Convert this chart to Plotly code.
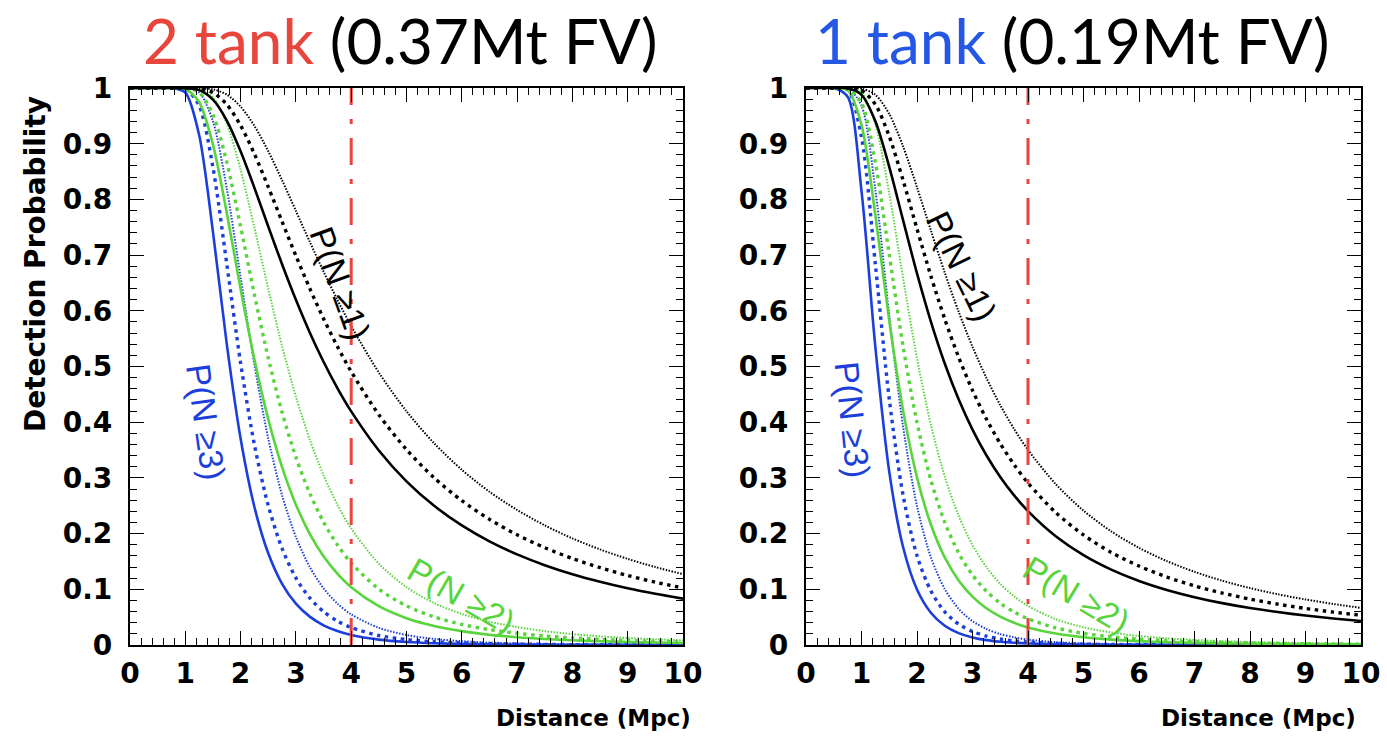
import plotly.graph_objects as go

# ---------------- data ----------------
distance = [0.0, 0.5, 0.75, 1.0, 1.25, 1.5, 1.75, 2.0, 2.25, 2.5, 2.75, 3.0, 3.25, 3.5, 3.75,
            4.0, 4.5, 5.0, 5.5, 6.0, 6.5, 7.0, 7.5, 8.0, 8.5, 9.0, 9.5, 10.0]

# 2 tank (0.37Mt FV)
t2_ge1_solid = [1, 1, 1, 0.9998, 0.9962, 0.9791, 0.9416, 0.8864, 0.8207, 0.7514, 0.6835, 0.6197, 0.5612, 0.5085, 0.4613,
                0.4194, 0.3493, 0.2939, 0.2499, 0.2147, 0.1861, 0.1627, 0.1433, 0.1271, 0.1135, 0.1018, 0.0919, 0.0833]
t2_ge1_dash = [1, 1, 1, 1.0, 0.9990, 0.9918, 0.9706, 0.9328, 0.8816, 0.8224, 0.7602, 0.6988, 0.6403, 0.5859, 0.5361,
               0.4908, 0.4134, 0.3508, 0.3002, 0.2592, 0.2256, 0.1978, 0.1747, 0.1553, 0.1388, 0.1248, 0.1128, 0.1024]
t2_ge1_dot = [1, 1, 1, 1.0, 0.9998, 0.9976, 0.9882, 0.9666, 0.9319, 0.8865, 0.8344, 0.7793, 0.7241, 0.6705, 0.6198,
              0.5726, 0.4891, 0.4196, 0.3621, 0.3146, 0.2752, 0.2424, 0.2148, 0.1914, 0.1716, 0.1546, 0.1399, 0.1272]
t2_ge2_solid = [1, 1, 1, 0.9984, 0.9749, 0.8982, 0.7758, 0.6393, 0.5125, 0.4054, 0.3194, 0.2520, 0.1997, 0.1594, 0.1281,
                0.1037, 0.0697, 0.0482, 0.0342, 0.0249, 0.0185, 0.0140, 0.0108, 0.0084, 0.0067, 0.0054, 0.0044, 0.0036]
t2_ge2_dash = [1, 1, 1, 0.9998, 0.9921, 0.9523, 0.8669, 0.7513, 0.6289, 0.5154, 0.4178, 0.3374, 0.2725, 0.2208, 0.1798,
               0.1472, 0.1005, 0.0703, 0.0504, 0.0369, 0.0276, 0.0210, 0.0162, 0.0127, 0.0101, 0.0081, 0.0066, 0.0054]
t2_ge2_dot = [1, 1, 1, 1.0, 0.9984, 0.9833, 0.9359, 0.8532, 0.7489, 0.6395, 0.5367, 0.4459, 0.3688, 0.3047, 0.2521,
              0.2093, 0.1460, 0.1038, 0.0753, 0.0557, 0.0419, 0.0321, 0.0249, 0.0196, 0.0156, 0.0126, 0.0103, 0.0085]
t2_ge3_solid = [1, 1, 1, 0.992, 0.9157, 0.7417, 0.5402, 0.3706, 0.2477, 0.1646, 0.1099, 0.0743, 0.0509, 0.0354, 0.0250,
                0.0179, 0.0096, 0.0054, 0.0032, 0.0020, 0.0013, 0.0008, 0.0006, 0.0004, 0.0003, 0.0002, 0.0001, 0.0001]
t2_ge3_dash = [1, 1, 1, 0.9986, 0.9683, 0.8575, 0.6840, 0.5064, 0.3594, 0.2502, 0.1733, 0.1205, 0.0845, 0.0599, 0.0429,
               0.0312, 0.0170, 0.0098, 0.0058, 0.0036, 0.0023, 0.0016, 0.0011, 0.0007, 0.0005, 0.0004, 0.0003, 0.0002]
t2_ge3_dot = [1, 1, 1, 0.9999, 0.9921, 0.9400, 0.8197, 0.6603, 0.5030, 0.3708, 0.2689, 0.1940, 0.1400, 0.1017, 0.0744,
              0.0549, 0.0308, 0.0179, 0.0109, 0.0068, 0.0044, 0.0029, 0.0020, 0.0014, 0.0010, 0.0007, 0.0005, 0.0004]

# 1 tank (0.19Mt FV)
t1_ge1_solid = [1, 1.0, 0.9996, 0.9877, 0.9402, 0.8585, 0.7623, 0.6671, 0.5807, 0.5054, 0.4411, 0.3867, 0.3407, 0.3018, 0.2687,
                0.2404, 0.1953, 0.1614, 0.1354, 0.1150, 0.0989, 0.0859, 0.0752, 0.0664, 0.0591, 0.0529, 0.0476, 0.0430]
t1_ge1_dash = [1, 1.0, 0.9999, 0.9959, 0.9704, 0.9132, 0.8340, 0.7472, 0.6626, 0.5852, 0.5168, 0.4572, 0.4059, 0.3617, 0.3237,
               0.2909, 0.2378, 0.1975, 0.1662, 0.1417, 0.1221, 0.1062, 0.0932, 0.0824, 0.0733, 0.0657, 0.0591, 0.0535]
t1_ge1_dot = [1, 1.0, 1.0, 0.9990, 0.9879, 0.9534, 0.8949, 0.8218, 0.7441, 0.6685, 0.5984, 0.5354, 0.4797, 0.4306, 0.3878,
              0.3503, 0.2888, 0.2412, 0.2040, 0.1744, 0.1507, 0.1314, 0.1154, 0.1022, 0.0911, 0.0817, 0.0736, 0.0667]
t1_ge2_solid = [1, 1.0, 0.9965, 0.9337, 0.7716, 0.5818, 0.4208, 0.3010, 0.2163, 0.1572, 0.1160, 0.0869, 0.0660, 0.0510, 0.0398,
                0.0316, 0.0205, 0.0138, 0.0096, 0.0069, 0.0051, 0.0038, 0.0029, 0.0023, 0.0018, 0.0014, 0.0011, 0.0009]
t1_ge2_dash = [1, 1.0, 0.9994, 0.9734, 0.8662, 0.7011, 0.5359, 0.3995, 0.2960, 0.2202, 0.1653, 0.1256, 0.0966, 0.0751, 0.0592,
               0.0471, 0.0308, 0.0209, 0.0147, 0.0105, 0.0078, 0.0058, 0.0045, 0.0035, 0.0027, 0.0022, 0.0018, 0.0015]
t1_ge2_dot = [1, 1.0, 0.9999, 0.9920, 0.9346, 0.8106, 0.6582, 0.5145, 0.3953, 0.3024, 0.2321, 0.1793, 0.1398, 0.1099, 0.0874,
              0.0701, 0.0464, 0.0318, 0.0224, 0.0162, 0.0120, 0.0090, 0.0069, 0.0054, 0.0043, 0.0035, 0.0028, 0.0023]
t1_ge3_solid = [1, 0.9999, 0.9842, 0.8149, 0.5344, 0.3113, 0.1754, 0.0996, 0.0579, 0.0346, 0.0214, 0.0136, 0.0088, 0.0059, 0.0040,
                0.0028, 0.0014, 0.0008, 0.0005, 0.0003, 0.0002, 0.0001, 0.0001, 0.0001, 0.0, 0.0, 0.0, 0.0]
t1_ge3_dash = [1, 1.0, 0.9967, 0.9116, 0.6828, 0.4419, 0.2683, 0.1605, 0.0969, 0.0596, 0.0375, 0.0242, 0.0160, 0.0108, 0.0074,
               0.0053, 0.0027, 0.0015, 0.0009, 0.0005, 0.0003, 0.0002, 0.0001, 0.0001, 0.0001, 0.0, 0.0, 0.0]
t1_ge3_dot = [1, 1.0, 0.9996, 0.9680, 0.8168, 0.5916, 0.3915, 0.2494, 0.1575, 0.1004, 0.0649, 0.0428, 0.0287, 0.0196, 0.0137,
              0.0097, 0.0051, 0.0029, 0.0017, 0.0011, 0.0007, 0.0005, 0.0003, 0.0002, 0.0002, 0.0001, 0.0001, 0.0001]

supernova_distance = 4.0   # vertical reference line (Mpc)

panel_titles = [("2 tank", " (0.37Mt FV)"), ("1 tank", " (0.19Mt FV)")]
x_ticks = list(range(0, 11))
y_ticks = [0, 0.1, 0.2, 0.3, 0.4, 0.5, 0.6, 0.7, 0.8, 0.9, 1]

# ---------------- styling ----------------
BLACK = "#000000"
GREEN = "#58d43c"
BLUE = "#1c3fdc"
RED = "#e8453c"
TITLE_BLUE = "#2457e6"

styles = {
    "solid": dict(width=2.6, dash="solid"),
    "dash": dict(width=3.4, dash="3.5px,4.5px"),
    "dot": dict(width=2.0, dash="1.5px,1.5px"),
}

panels = [
    dict(xa="x", ya="y",
         series=[(t2_ge3_solid, BLUE, "solid"), (t2_ge3_dash, BLUE, "dash"), (t2_ge3_dot, BLUE, "dot"),
                 (t2_ge2_solid, GREEN, "solid"), (t2_ge2_dash, GREEN, "dash"), (t2_ge2_dot, GREEN, "dot"),
                 (t2_ge1_solid, BLACK, "solid"), (t2_ge1_dash, BLACK, "dash"), (t2_ge1_dot, BLACK, "dot")]),
    dict(xa="x2", ya="y2",
         series=[(t1_ge3_solid, BLUE, "solid"), (t1_ge3_dash, BLUE, "dash"), (t1_ge3_dot, BLUE, "dot"),
                 (t1_ge2_solid, GREEN, "solid"), (t1_ge2_dash, GREEN, "dash"), (t1_ge2_dot, GREEN, "dot"),
                 (t1_ge1_solid, BLACK, "solid"), (t1_ge1_dash, BLACK, "dash"), (t1_ge1_dot, BLACK, "dot")]),
]

fig = go.Figure()
for p in panels:
    for vals, col, st in p["series"]:
        fig.add_trace(go.Scatter(
            x=distance, y=vals, mode="lines", xaxis=p["xa"], yaxis=p["ya"],
            line=dict(color=col, width=styles[st]["width"], dash=styles[st]["dash"],
                      shape="spline", smoothing=0.8),
            showlegend=False, hoverinfo="skip"))
    fig.add_trace(go.Scatter(
        x=[supernova_distance, supernova_distance], y=[0, 1], mode="lines",
        xaxis=p["xa"], yaxis=p["ya"],
        line=dict(color=RED, width=3, dash="27px,14px,5px,14px"),
        showlegend=False, hoverinfo="skip"))

W, H = 1387, 744
left_dom = [130 / W, 683 / W]
right_dom = [806 / W, 1361 / W]
y_dom = [1 - 645 / H, 1 - 88 / H]

tickfont = dict(family="DejaVu Sans", size=28, color="black", weight="bold")


def xaxis(dom, anchor):
    return dict(domain=dom, anchor=anchor, range=[0, 10], tickvals=x_ticks,
                ticks="inside", ticklen=14, tickwidth=1.3, tickcolor="black",
                minor=dict(dtick=0.2, tick0=0, ticks="inside", ticklen=7, tickwidth=1.1, tickcolor="black"),
                showline=True, linecolor="black", linewidth=2.2, mirror="allticks",
                showgrid=False, zeroline=False, tickfont=tickfont, ticklabelstandoff=2,
                automargin=False, fixedrange=True)


def yaxis(anchor):
    return dict(domain=y_dom, anchor=anchor, range=[0, 1], tickvals=y_ticks,
                ticks="inside", ticklen=14, tickwidth=1.3, tickcolor="black",
                minor=dict(dtick=0.02, tick0=0, ticks="inside", ticklen=7, tickwidth=1.1, tickcolor="black"),
                showline=True, linecolor="black", linewidth=2.2, mirror="allticks",
                showgrid=False, zeroline=False, tickfont=tickfont, ticklabelstandoff=10,
                automargin=False, fixedrange=True)


annotations = []
# panel titles
for (colored, rest), cx, col in [(panel_titles[0], 400, RED), (panel_titles[1], 1072, TITLE_BLUE)]:
    annotations.append(dict(
        text=f"<span style='color:{col}'>{colored}</span>{rest}",
        x=cx / W, y=1 - 40 / H, xref="paper", yref="paper", showarrow=False,
        xanchor="center", yanchor="middle",
        font=dict(family="Lato", size=62, color="black")))

# axis titles
annotations.append(dict(text="<b>Detection Probability</b>", x=35 / W, y=1 - 264 / H,
                        xref="paper", yref="paper", showarrow=False, textangle=-90,
                        xanchor="center", yanchor="middle",
                        font=dict(family="DejaVu Sans", size=28, color="black")))
for rx in [693, 1358]:
    annotations.append(dict(text="<b>Distance (Mpc)</b>", x=rx / W, y=1 - 718 / H,
                            xref="paper", yref="paper", showarrow=False,
                            xanchor="right", yanchor="middle",
                            font=dict(family="DejaVu Sans", size=23, color="black")))

# curve labels
labels = [
    ("x", "y", "P(N ≥1)", 3.80, 0.65, 70, BLACK),
    ("x", "y", "P(N ≥3)", 1.37, 0.40, 82, BLUE),
    ("x", "y", "P(N ≥2)", 6.0, 0.088, 30, GREEN),
    ("x2", "y2", "P(N ≥1)", 2.80, 0.68, 64, BLACK),
    ("x2", "y2", "P(N ≥3)", 0.83, 0.405, 84, BLUE),
    ("x2", "y2", "P(N ≥2)", 4.88, 0.09, 31, GREEN),
]
for xr, yr, txt, lx, ly, ang, col in labels:
    annotations.append(dict(text=txt, x=lx, y=ly, xref=xr, yref=yr, showarrow=False,
                            textangle=ang, xanchor="center", yanchor="middle",
                            font=dict(family="Liberation Sans", size=34, color=col)))

fig.update_layout(
    width=W, height=H, margin=dict(l=0, r=0, t=0, b=0),
    paper_bgcolor="white", plot_bgcolor="white",
    xaxis=xaxis(left_dom, "y"), yaxis=yaxis("x"),
    xaxis2=xaxis(right_dom, "y2"), yaxis2=yaxis("x2"),
    annotations=annotations,
)

fig.write_html("out.html", config={"displayModeBar": False})
